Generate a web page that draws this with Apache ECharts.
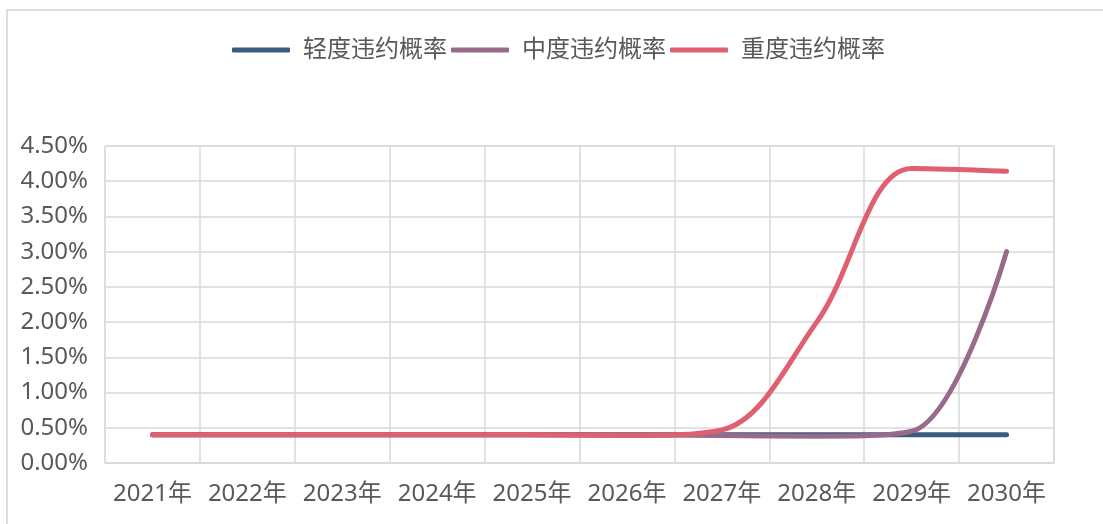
<!DOCTYPE html>
<html>
<head>
<meta charset="utf-8">
<script src="https://cdn.jsdelivr.net/npm/echarts@6/dist/echarts.min.js"></script>
<style>
  html, body { margin: 0; padding: 0; background: #fff; }
  #chart { width: 1103px; height: 524px; }
  #frame {
    position: absolute; left: 6px; top: 9px; right: 0; bottom: 0;
    border-left: 2px solid #dedede; border-top: 2px solid #dedede;
    pointer-events: none;
  }
</style>
</head>
<body>
<div id="chart"></div>
<div id="frame"></div>
<script>
// 年份
const years = ['2021年', '2022年', '2023年', '2024年', '2025年', '2026年', '2027年', '2028年', '2029年', '2030年']
// 违约概率（单位：%）
const lightRate = [0.40, 0.40, 0.40, 0.40, 0.40, 0.40, 0.40, 0.40, 0.40, 0.40]
const midRate = [0.40, 0.40, 0.40, 0.40, 0.40, 0.40, 0.39, 0.38, 0.45, 3.00]
const heavyRate = [0.40, 0.40, 0.40, 0.40, 0.40, 0.39, 0.47, 2.00, 4.18, 4.14]

const myChart = echarts.init(document.getElementById('chart'))

const textColor = '#595959'
const gridColor = '#d9d9d9'
const font = '"Noto Sans", "Noto Sans CJK SC", sans-serif'

const lineSeries = (name, color, data) => ({
  name: name,
  type: 'line',
  data: data,
  smooth: 0.35,
  symbol: 'none',
  lineStyle: { width: 5, color: color, cap: 'round' },
  itemStyle: { color: color },
})

const option = {
  backgroundColor: '#fff',
  animation: false,
  legend: {
    top: 33,
    left: 227,
    itemWidth: 58,
    itemHeight: 5,
    itemGap: 4,
    icon: 'roundRect',
    textStyle: {
      color: textColor,
      fontSize: 24,
      fontFamily: font,
      padding: [0, 0, 0, 8],
    },
  },
  grid: {
    left: 105,
    right: 49,
    top: 146,
    bottom: 61,
    show: true,
    borderColor: gridColor,
    borderWidth: 1,
  },
  xAxis: {
    type: 'category',
    data: years,
    boundaryGap: true,
    axisTick: { show: false },
    axisLine: { lineStyle: { color: gridColor, width: 1.5 } },
    splitLine: { show: true, interval: 0, lineStyle: { color: gridColor, width: 1.5 } },
    axisLabel: {
      interval: 0,
      color: textColor,
      fontSize: 24,
      fontFamily: font,
      margin: 19,
    },
  },
  yAxis: {
    type: 'value',
    min: 0,
    max: 4.5,
    interval: 0.5,
    axisLine: { show: false },
    axisTick: { show: false },
    splitLine: { lineStyle: { color: gridColor, width: 1.5 } },
    axisLabel: {
      color: textColor,
      fontSize: 24,
      fontFamily: font,
      margin: 17,
      formatter: (v) => v.toFixed(2) + '%',
    },
  },
  series: [
    lineSeries('轻度违约概率', '#385b80', lightRate),
    lineSeries('中度违约概率', '#9a6a8b', midRate),
    lineSeries('重度违约概率', '#e05f71', heavyRate),
  ],
}

myChart.setOption(option)
</script>
</body>
</html>
